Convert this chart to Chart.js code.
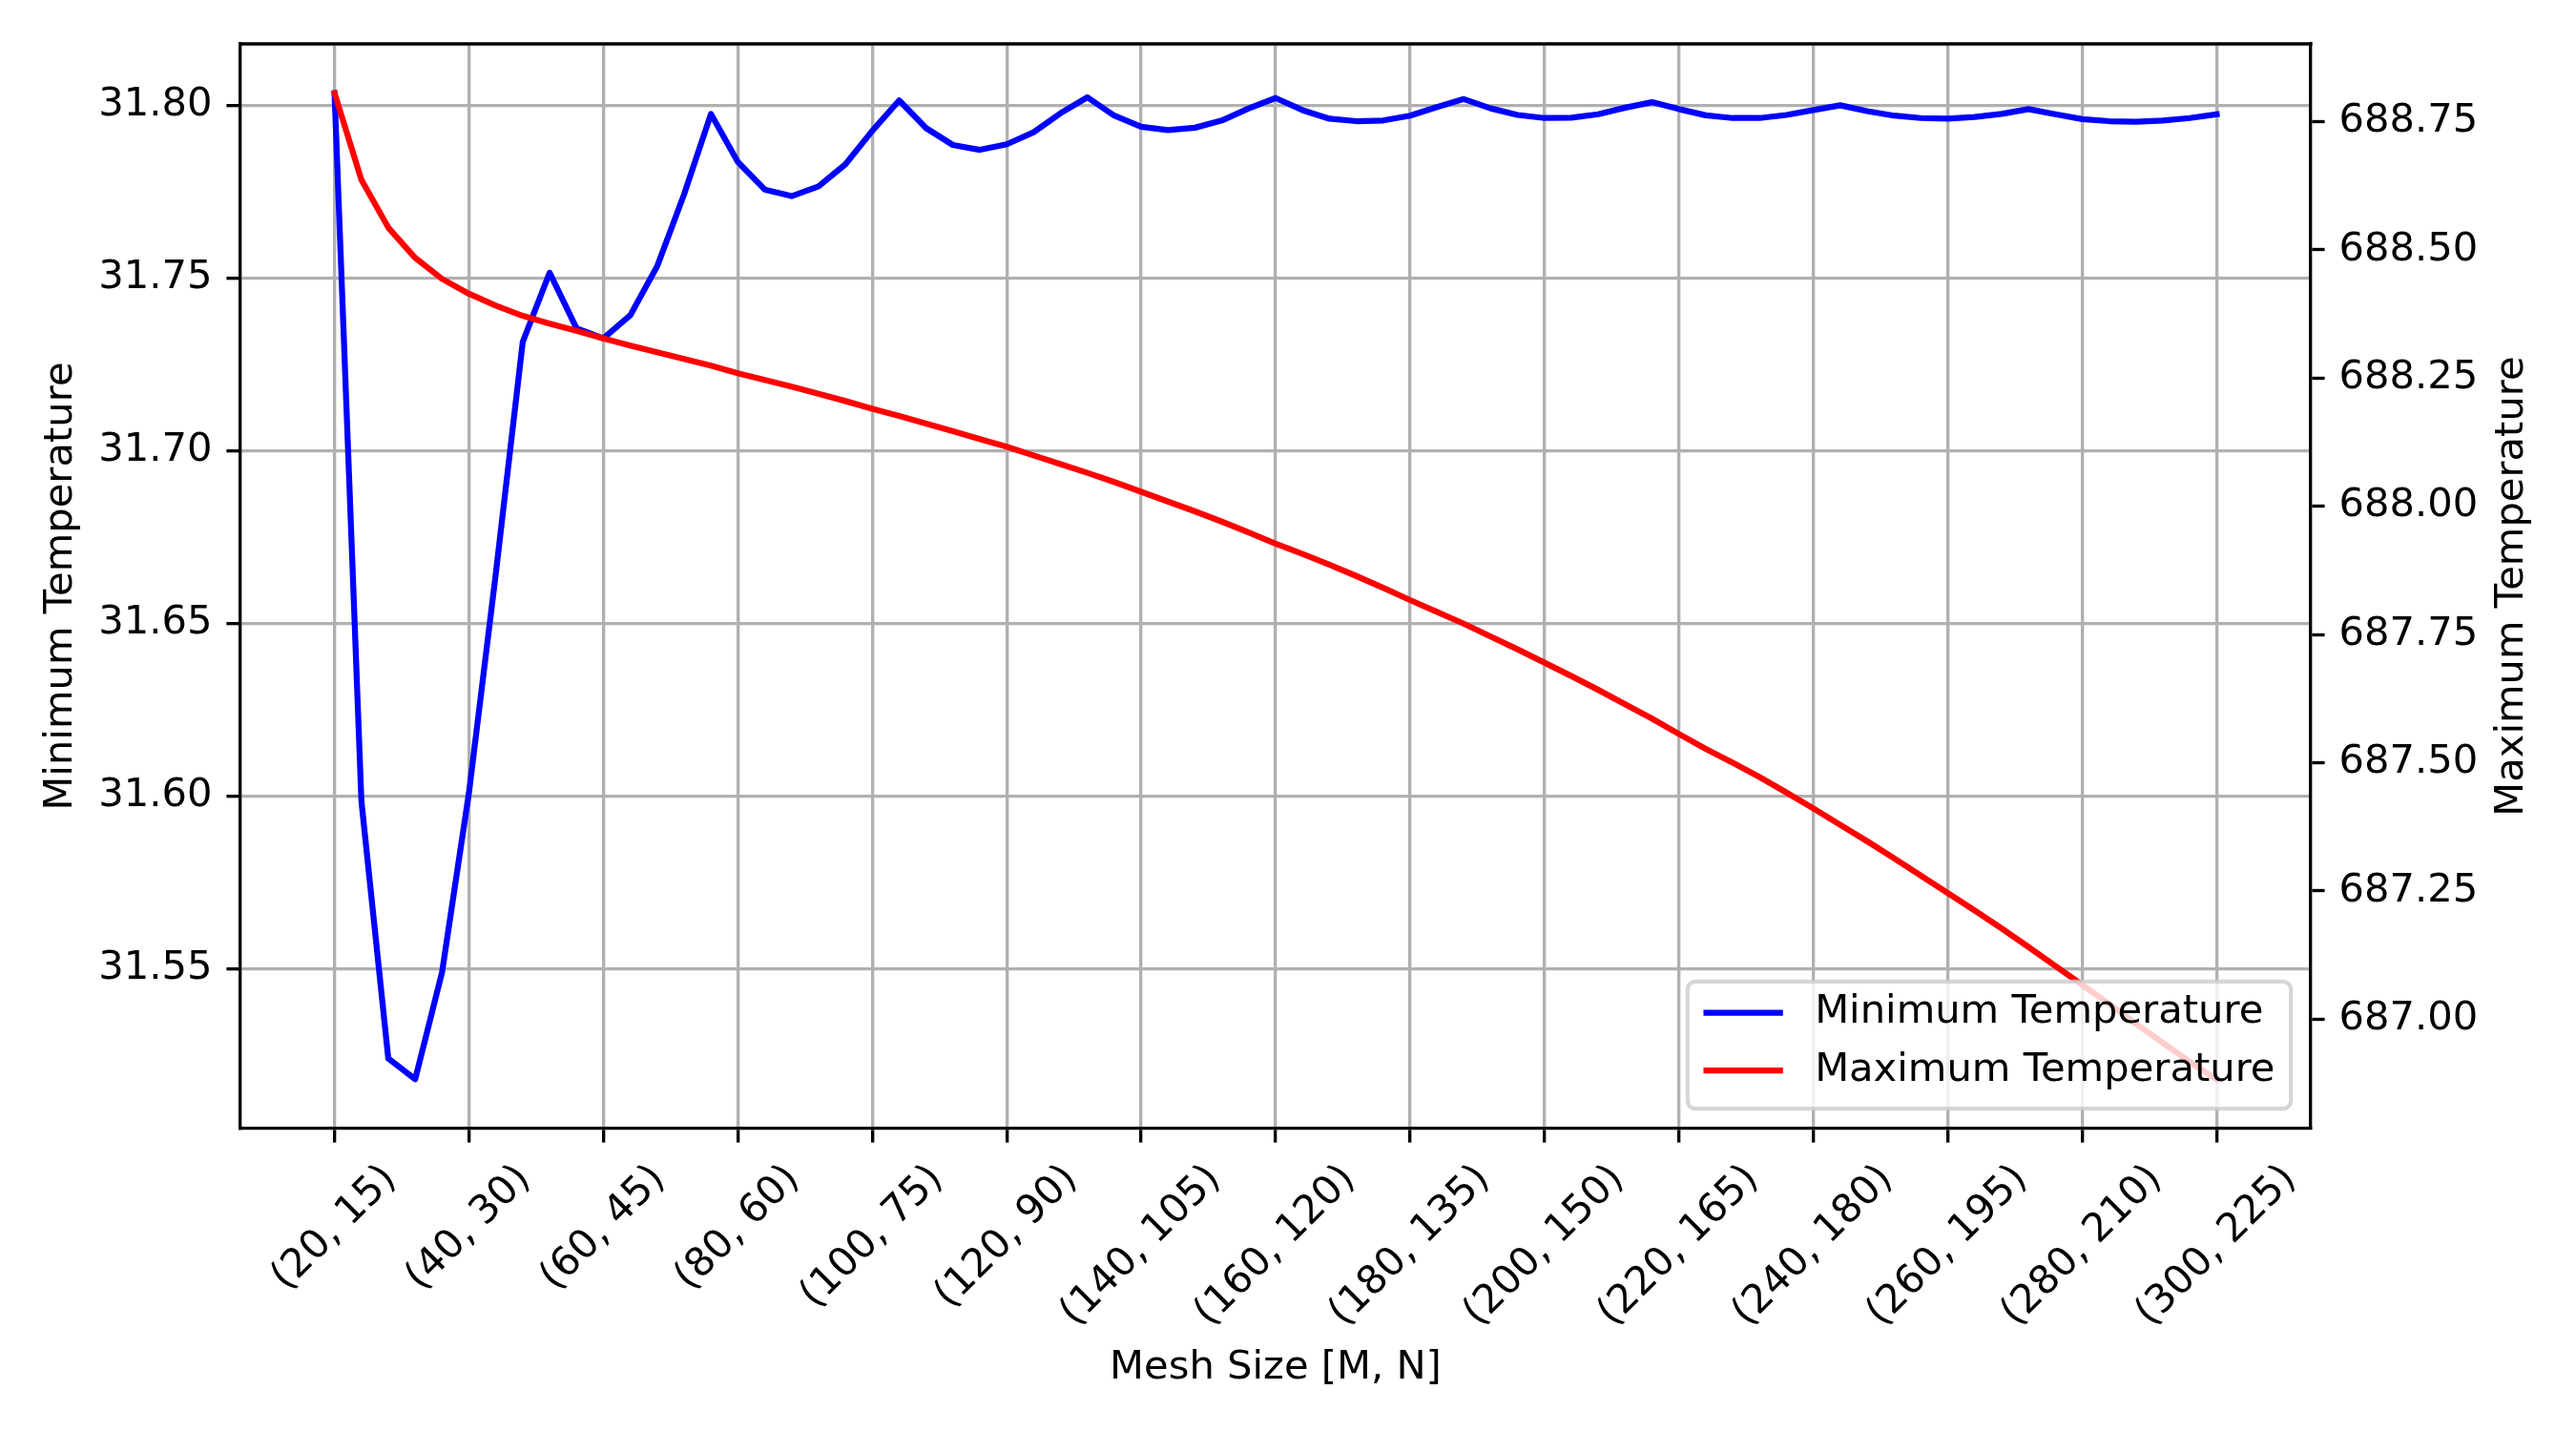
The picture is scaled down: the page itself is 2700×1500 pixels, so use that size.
<!DOCTYPE html>
<html>
<head>
<meta charset="utf-8">
<title>Mesh convergence</title>
<script src="https://cdn.jsdelivr.net/npm/chart.js@4.4.1/dist/chart.umd.min.js"></script>
<style>
  html, body { margin: 0; padding: 0; background: #ffffff; }
  canvas { display: block; }
</style>
</head>
<body>
<canvas id="meshChart" width="2700" height="1500"></canvas>
<script>
// Mesh sizes [M, N] (categories)
const meshSizes = [
    '(20, 15)', '(24, 18)', '(28, 21)', '(32, 24)', '(36, 27)',
    '(40, 30)', '(44, 33)', '(48, 36)', '(52, 39)', '(56, 42)',
    '(60, 45)', '(64, 48)', '(68, 51)', '(72, 54)', '(76, 57)',
    '(80, 60)', '(84, 63)', '(88, 66)', '(92, 69)', '(96, 72)',
    '(100, 75)', '(104, 78)', '(108, 81)', '(112, 84)', '(116, 87)',
    '(120, 90)', '(124, 93)', '(128, 96)', '(132, 99)', '(136, 102)',
    '(140, 105)', '(144, 108)', '(148, 111)', '(152, 114)', '(156, 117)',
    '(160, 120)', '(164, 123)', '(168, 126)', '(172, 129)', '(176, 132)',
    '(180, 135)', '(184, 138)', '(188, 141)', '(192, 144)', '(196, 147)',
    '(200, 150)', '(204, 153)', '(208, 156)', '(212, 159)', '(216, 162)',
    '(220, 165)', '(224, 168)', '(228, 171)', '(232, 174)', '(236, 177)',
    '(240, 180)', '(244, 183)', '(248, 186)', '(252, 189)', '(256, 192)',
    '(260, 195)', '(264, 198)', '(268, 201)', '(272, 204)', '(276, 207)',
    '(280, 210)', '(284, 213)', '(288, 216)', '(292, 219)', '(296, 222)',
    '(300, 225)'
];

// Minimum temperature (left axis)
const minTemperature = [
    31.8035, 31.5985, 31.5240, 31.5180, 31.5490,
    31.6010, 31.6645, 31.7315, 31.7515, 31.7354,
    31.7325, 31.7392, 31.7534, 31.7742, 31.7975,
    31.7836, 31.7756, 31.7737, 31.7765, 31.7829,
    31.7926, 31.8014, 31.7934, 31.7885, 31.7871,
    31.7887, 31.7922, 31.7977, 31.8023, 31.7970,
    31.7938, 31.7928, 31.7935, 31.7956, 31.7991,
    31.8021, 31.7986, 31.7961, 31.7954, 31.7956,
    31.7970, 31.7995, 31.8018, 31.7991, 31.7972,
    31.7963, 31.7964, 31.7974, 31.7993, 31.8009,
    31.7989, 31.7971, 31.7963, 31.7963, 31.7972,
    31.7986, 31.8000, 31.7983, 31.7970, 31.7963,
    31.7961, 31.7966, 31.7975, 31.7989, 31.7974,
    31.7960, 31.7954, 31.7952, 31.7956, 31.7963,
    31.7974
];

// Maximum temperature (right axis)
const maxTemperature = [
    688.805, 688.636, 688.543, 688.484, 688.443,
    688.414, 688.391, 688.371, 688.356, 688.342,
    688.327, 688.313, 688.300, 688.287, 688.274,
    688.259, 688.246, 688.233, 688.219, 688.205,
    688.190, 688.176, 688.161, 688.146, 688.131,
    688.116, 688.099, 688.082, 688.065, 688.047,
    688.028, 688.009, 687.990, 687.970, 687.949,
    687.927, 687.907, 687.886, 687.864, 687.841,
    687.817, 687.794, 687.771, 687.746, 687.721,
    687.695, 687.669, 687.642, 687.614, 687.586,
    687.556, 687.527, 687.500, 687.472, 687.442,
    687.411, 687.379, 687.347, 687.314, 687.280,
    687.246, 687.212, 687.177, 687.141, 687.104,
    687.067, 687.030, 686.991, 686.954, 686.917,
    686.883
];

// Axis ticks
const xTickEvery = 5;
const minTempTicks = [31.55, 31.60, 31.65, 31.70, 31.75, 31.80];
const maxTempTicks = [687.00, 687.25, 687.50, 687.75, 688.00, 688.25, 688.50, 688.75];

const FONT = 'DejaVu Sans';
const FS = 41.67;          // 10pt @ 300dpi
const LW = 6.25;           // 1.5pt
const SPINE = 3.33;        // 0.8pt
const TICK_LEN = 14.6;

Chart.defaults.color = '#000000';
Chart.defaults.font.family = FONT;
Chart.defaults.font.size = FS;

// Axis limits like matplotlib's 5% margins
function padRange(values, frac) {
    const lo = Math.min(...values), hi = Math.max(...values);
    const m = (hi - lo) * frac;
    return [lo - m, hi + m];
}
const [minLo, minHi] = padRange(minTemperature, 0.05);
const [maxLo, maxHi] = padRange(maxTemperature, 0.05);
const xPad = (meshSizes.length - 1) * 0.05;

// Top spine (matplotlib draws a full frame)
const framePlugin = {
    id: 'frame',
    afterDatasetsDraw(chart) {
        const { ctx, chartArea: a } = chart;
        ctx.save();
        ctx.strokeStyle = '#000000';
        ctx.lineWidth = SPINE;
        ctx.beginPath();
        ctx.moveTo(a.left - SPINE / 2, a.top);
        ctx.lineTo(a.right + SPINE / 2, a.top);
        ctx.stroke();
        ctx.restore();
    }
};

// x tick labels rotated 45deg and centred under their tick (matplotlib style)
const xLabelsPlugin = {
    id: 'xLabels',
    afterDraw(chart) {
        const { ctx } = chart;
        const s = chart.scales.x;
        const h = 1.16 * FS;
        const top = s.top + TICK_LEN + 14.6;
        ctx.save();
        ctx.font = FS + 'px "' + FONT + '"';
        ctx.fillStyle = '#000000';
        ctx.textAlign = 'center';
        ctx.textBaseline = 'middle';
        s.ticks.forEach(t => {
            const text = meshSizes[t.value];
            const w = ctx.measureText(text).width;
            const cx = s.getPixelForValue(t.value);
            const cy = top + Math.SQRT1_2 * (w + h) / 2;
            ctx.save();
            ctx.translate(cx, cy);
            ctx.rotate(-Math.PI / 4);
            ctx.fillText(text, 0, 0);
            ctx.restore();
        });
        ctx.restore();
    }
};

// Right-hand axis label, reading bottom to top like the left one
const rightTitlePlugin = {
    id: 'rightTitle',
    afterDraw(chart) {
        const { ctx, chartArea: a } = chart;
        const s = chart.scales.yMax;
        ctx.save();
        ctx.translate(s.right - 67, (a.top + a.bottom) / 2);
        ctx.rotate(-Math.PI / 2);
        ctx.font = FS + 'px "' + FONT + '"';
        ctx.fillStyle = '#000000';
        ctx.textAlign = 'center';
        ctx.textBaseline = 'middle';
        ctx.fillText('Maximum Temperature', 0, 0);
        ctx.restore();
    }
};

// Legend box in the lower right corner of the plot area
const boxLegendPlugin = {
    id: 'boxLegend',
    afterDraw(chart) {
        const { ctx, chartArea: a } = chart;
        const items = chart.data.datasets.slice().sort((p, q) => p.legendIndex - q.legendIndex);
        ctx.save();
        ctx.font = FS + 'px "' + FONT + '"';
        const textW = Math.max(...items.map(d => ctx.measureText(d.label).width));
        const pad = 0.4 * FS;
        const handle = 2 * FS;
        const gap = 0.8 * FS;
        const w = pad + handle + gap + textW + pad;
        const h = 3.2 * FS;
        const x = a.right - 0.5 * FS - w;
        const y = a.bottom - 0.5 * FS - h;
        const r = 0.2 * FS;

        ctx.beginPath();
        ctx.moveTo(x + r, y);
        ctx.lineTo(x + w - r, y);
        ctx.arcTo(x + w, y, x + w, y + r, r);
        ctx.lineTo(x + w, y + h - r);
        ctx.arcTo(x + w, y + h, x + w - r, y + h, r);
        ctx.lineTo(x + r, y + h);
        ctx.arcTo(x, y + h, x, y + h - r, r);
        ctx.lineTo(x, y + r);
        ctx.arcTo(x, y, x + r, y, r);
        ctx.closePath();
        ctx.fillStyle = 'rgba(255,255,255,0.8)';
        ctx.fill();
        ctx.strokeStyle = 'rgba(204,204,204,0.8)';
        ctx.lineWidth = 4.17;
        ctx.stroke();

        items.forEach((d, k) => {
            const cy = y + (0.785 + k * 1.455) * FS;
            ctx.strokeStyle = d.borderColor;
            ctx.lineWidth = LW;
            ctx.lineCap = 'butt';
            ctx.beginPath();
            ctx.moveTo(x + pad, cy);
            ctx.lineTo(x + pad + handle, cy);
            ctx.stroke();
            ctx.fillStyle = '#000000';
            ctx.textAlign = 'left';
            ctx.textBaseline = 'middle';
            ctx.fillText(d.label, x + pad + handle + gap, cy);
        });
        ctx.restore();
    }
};

const ctx = document.getElementById('meshChart').getContext('2d');
new Chart(ctx, {
    type: 'line',
    data: {
        datasets: [
            {
                label: 'Minimum Temperature',
                data: minTemperature.map((v, i) => ({ x: i, y: v })),
                yAxisID: 'yMin',
                borderColor: '#0000ff',
                borderWidth: LW,
                pointRadius: 0,
                tension: 0,
                borderJoinStyle: 'round',
                borderCapStyle: 'square',
                fill: false,
                order: 1,
                legendIndex: 0
            },
            {
                label: 'Maximum Temperature',
                data: maxTemperature.map((v, i) => ({ x: i, y: v })),
                yAxisID: 'yMax',
                borderColor: '#ff0000',
                borderWidth: LW,
                pointRadius: 0,
                tension: 0,
                borderJoinStyle: 'round',
                borderCapStyle: 'square',
                fill: false,
                order: 0,
                legendIndex: 1
            }
        ]
    },
    options: {
        responsive: false,
        animation: false,
        devicePixelRatio: 1,
        layout: { padding: { top: 46, left: 0, right: 0, bottom: 0 } },
        plugins: {
            legend: { display: false },
            tooltip: { enabled: false }
        },
        scales: {
            x: {
                type: 'linear',
                position: 'bottom',
                min: -xPad,
                max: meshSizes.length - 1 + xPad,
                afterFit: (scale) => { scale.height = 317; },
                afterBuildTicks: (scale) => {
                    scale.ticks = meshSizes
                        .map((_, i) => i)
                        .filter(i => i % xTickEvery === 0)
                        .map(i => ({ value: i }));
                },
                ticks: {
                    display: false,
                    autoSkip: false
                },
                grid: {
                    color: '#b0b0b0',
                    lineWidth: SPINE,
                    tickColor: '#000000',
                    tickWidth: SPINE,
                    tickLength: TICK_LEN
                },
                border: { color: '#000000', width: SPINE },
                title: {
                    display: true,
                    text: 'Mesh Size [M, N]',
                    padding: { top: 0, bottom: 41 }
                }
            },
            yMin: {
                type: 'linear',
                position: 'left',
                min: minLo,
                max: minHi,
                afterFit: (scale) => { scale.width = 252; },
                afterBuildTicks: (scale) => {
                    scale.ticks = minTempTicks.map(v => ({ value: v }));
                },
                ticks: {
                    padding: 15,
                    callback: (v) => v.toFixed(2)
                },
                grid: {
                    color: '#b0b0b0',
                    lineWidth: SPINE,
                    tickColor: '#000000',
                    tickWidth: SPINE,
                    tickLength: TICK_LEN
                },
                border: { color: '#000000', width: SPINE },
                title: {
                    display: true,
                    text: 'Minimum Temperature',
                    padding: { top: 39, bottom: 0 }
                }
            },
            yMax: {
                type: 'linear',
                position: 'right',
                min: maxLo,
                max: maxHi,
                afterFit: (scale) => { scale.width = 278; },
                afterBuildTicks: (scale) => {
                    scale.ticks = maxTempTicks.map(v => ({ value: v }));
                },
                ticks: {
                    padding: 15,
                    callback: (v) => v.toFixed(2)
                },
                grid: {
                    drawOnChartArea: false,
                    tickColor: '#000000',
                    tickWidth: SPINE,
                    tickLength: TICK_LEN
                },
                border: { color: '#000000', width: SPINE }
            }
        }
    },
    plugins: [framePlugin, xLabelsPlugin, rightTitlePlugin, boxLegendPlugin]
});
</script>
</body>
</html>
